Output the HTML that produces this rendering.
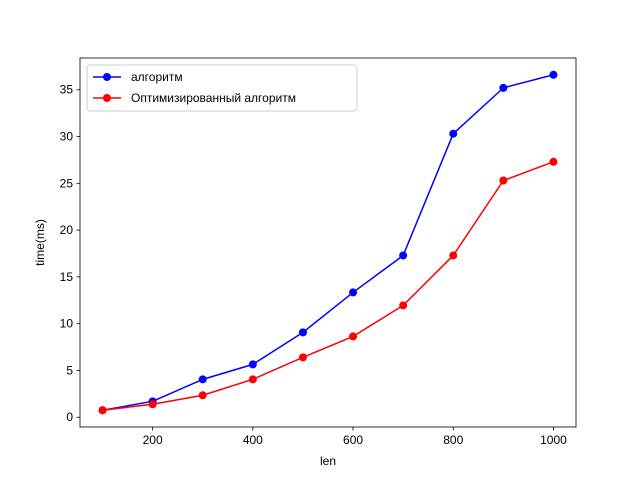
<!DOCTYPE html>
<html><head><meta charset="utf-8"><style>
body{margin:0;background:#fff}
text{font-family:"Liberation Sans","DejaVu Sans",sans-serif;font-size:12px;fill:#000}
</style></head><body>
<svg id="chart" width="640" height="480"></svg>
<script>
const lens=[100,200,300,400,500,600,700,800,900,1000];
const algo=[0.75,1.7,4.05,5.65,9.07,13.34,17.29,30.3,35.2,36.6];
const optAlgo=[0.75,1.39,2.35,4.05,6.4,8.64,11.95,17.29,25.3,27.3];
const xTicks=[200,400,600,800,1000];
const yTicks=[0,5,10,15,20,25,30,35];
const seriesNames=["алгоритм","Оптимизированный алгоритм"];

const svg=document.getElementById('chart');
const NS='http://www.w3.org/2000/svg';
const L=80,R=576,T=58,B=427;
const xmin=Math.min(...lens),xmax=Math.max(...lens),xm=(xmax-xmin)*0.05;
const all=algo.concat(optAlgo);
const ymin=Math.min(...all),ymax=Math.max(...all),ym=(ymax-ymin)*0.05;
const x0=xmin-xm,x1=xmax+xm,y0=ymin-ym,y1=ymax+ym;
const sx=v=>L+(v-x0)/(x1-x0)*(R-L);
const sy=v=>B-(v-y0)/(y1-y0)*(B-T);
function mk(tag,attrs,parent){const e=document.createElementNS(NS,tag);for(const k in attrs)e.setAttribute(k,attrs[k]);(parent||svg).appendChild(e);return e;}

const axes=mk('rect',{x:L,y:T,width:R-L,height:B-T,fill:'none',stroke:'#000','stroke-width':0.8});



xTicks.forEach(v=>{
  const g=mk('g',{});
  
  
  mk('line',{x1:sx(v),x2:sx(v),y1:B,y2:B+3.5,stroke:'#000','stroke-width':0.8},g);
  const t=mk('text',{x:sx(v),y:B+17,'text-anchor':'middle'},g);t.textContent=v;
});
yTicks.forEach(v=>{
  const g=mk('g',{});
  
  
  mk('line',{x1:L-3.5,x2:L,y1:sy(v),y2:sy(v),stroke:'#000','stroke-width':0.8},g);
  const t=mk('text',{x:L-7,y:sy(v)+4,'text-anchor':'end'},g);t.textContent=v;
});
const xl=mk('text',{x:(L+R)/2,y:465,'text-anchor':'middle'});xl.textContent='len';


const yl=mk('text',{x:0,y:0,'text-anchor':'middle',transform:`translate(44,${(T+B)/2}) rotate(-90)`});yl.textContent='time(ms)';



function series(vals,color,name){
  const g=mk('g',{});
  
  
  mk('polyline',{points:lens.map((l,i)=>sx(l)+','+sy(vals[i])).join(' '),fill:'none',stroke:color,'stroke-width':1.5},g);
  lens.forEach((l,i)=>{
    const c=mk('circle',{cx:sx(l),cy:sy(vals[i]),r:4,fill:color},g);
    
    
  });
}
series(algo,'#0000ff','series-algorithm');
series(optAlgo,'#ff0000','series-optimized');

const lg=mk('g',{});


mk('rect',{x:87,y:65,width:270,height:46,rx:3,fill:'#fff',stroke:'#ccc','stroke-width':1},lg);
[['#0000ff',seriesNames[0],77],['#ff0000',seriesNames[1],98]].forEach(([c,n,y])=>{
  const e=mk('g',{},lg);
  
  
  mk('line',{x1:93,x2:121,y1:y,y2:y,stroke:c,'stroke-width':1.5},e);
  mk('circle',{cx:107,cy:y,r:4,fill:c},e);
  const t=mk('text',{x:131,y:y+4},e);t.textContent=n;
});
</script>
</body></html>
